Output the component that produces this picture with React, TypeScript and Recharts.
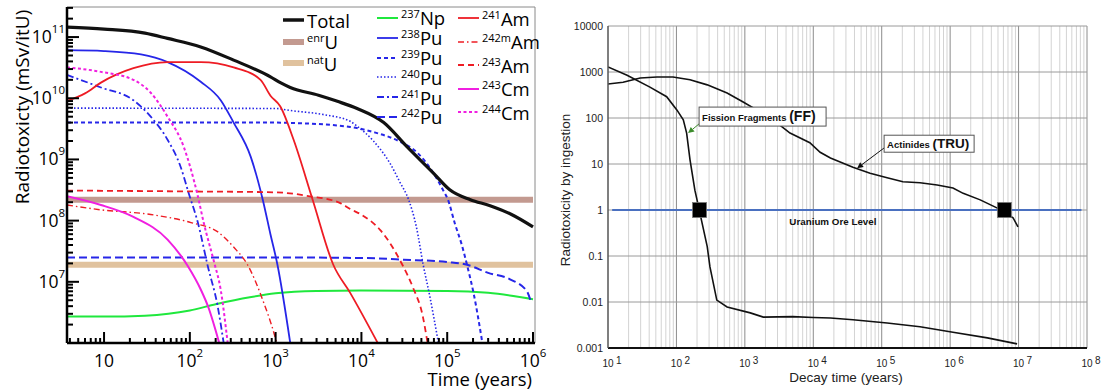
import React from 'react';
import { LineChart, Line, XAxis, YAxis, ReferenceLine, ReferenceDot, Legend } from 'recharts';

type Pt = [number, number];

// ---- left panel: radiotoxicity (mSv/itU) against time (years)
const totalCurve: Pt[] = [[3.7, 1.45e11], [10, 1.35e11], [30, 1.16e11], [55, 9.5e10], [134, 6.9e10], [324, 4.2e10], [870, 2.24e10], [1150, 1.78e10], [1480, 1.5e10], [3160, 1.12e10], [5250, 8.9e9], [8900, 6.8e9], [18200, 4.0e9], [33900, 1.62e9], [69000, 6.0e8], [107000, 3.2e8], [186000, 2.2e8], [316000, 1.75e8], [562000, 1.26e8], [1e6, 7.9e7]];
const enrichedU: Pt[] = [[3.7, 2.2e8], [1e6, 2.2e8]];
const naturalU: Pt[] = [[3.7, 1.9e7], [1e6, 1.9e7]];
const np237: Pt[] = [[3.7, 2.7e6], [10, 2.7e6], [30, 2.8e6], [100, 3.4e6], [200, 4.3e6], [500, 5.6e6], [1000, 6.5e6], [3000, 7.1e6], [10000, 7.2e6], [100000, 7.1e6], [300000, 6.6e6], [1e6, 5.2e6]];
const pu238: Pt[] = [[3.7, 6.1e10], [10, 5.9e10], [27, 5.2e10], [55, 3.9e10], [134, 1.86e10], [229, 9.3e9], [324, 4.0e9], [513, 1.1e9], [708, 2.2e8], [870, 6e7], [1050, 1.9e7], [1480, 1e6]];
const pu239: Pt[] = [[3.7, 4e9], [1000, 4e9], [1480, 3.95e9], [7400, 3.4e9], [13800, 2.8e9], [28200, 1.95e9], [44700, 1.29e9], [69000, 6e8], [89000, 3.2e8], [102000, 2.2e8], [123000, 8.9e7], [148000, 4e7], [170000, 1.9e7], [204000, 6.3e6], [257000, 1e6]];
const pu240: Pt[] = [[3.7, 6.9e9], [1000, 6.8e9], [1490, 6.3e9], [3640, 5.4e9], [7400, 4.2e9], [8900, 3.5e9], [13800, 2e9], [21900, 8.3e8], [28200, 4.2e8], [35500, 2.2e8], [43700, 7.9e7], [52500, 1.9e7], [63000, 5.6e6], [79000, 1e6]];
const pu241: Pt[] = [[3.7, 2.4e10], [9.2, 1.5e10], [22, 9.3e9], [35, 5e9], [55, 2.1e9], [78, 7.6e8], [97, 2.8e8], [124, 9.3e7], [162, 1.8e7], [211, 4e6], [248, 1e6]];
const pu242: Pt[] = [[3.7, 2.5e7], [1000, 2.5e7], [10000, 2.45e7], [31000, 2.3e7], [100000, 2.1e7], [170000, 1.9e7], [300000, 1.4e7], [540000, 1.1e7], [850000, 7.0e6], [950000, 4.6e6]];
const am241: Pt[] = [[3.7, 9e9], [6, 1.2e10], [9.2, 1.8e10], [22, 3.1e10], [55, 3.9e10], [134, 3.9e10], [324, 3.2e10], [667, 2.0e10], [871, 1.1e10], [1130, 7.4e9], [1620, 2.1e9], [2700, 2.2e8], [4700, 1.9e7], [7400, 6.6e6], [15500, 1e6]];
const am242m: Pt[] = [[3.7, 1.8e8], [9.2, 1.5e8], [35, 1.26e8], [103, 9.3e7], [210, 6.6e7], [324, 3.7e7], [470, 1.9e7], [725, 4.6e6], [950, 1.5e6], [1030, 1e6]];
const am243: Pt[] = [[3.7, 3.1e8], [100, 3.0e8], [1000, 2.9e8], [2500, 2.5e8], [5600, 1.95e8], [7400, 1.55e8], [10000, 1.25e8], [16600, 7e7], [30000, 1.9e7], [40000, 8e6], [52000, 2.7e6], [59000, 1e6]];
const cm243: Pt[] = [[3.7, 2.5e8], [9.2, 1.8e8], [22, 1.15e8], [55, 4.9e7], [95, 1.8e7], [134, 7.5e6], [166, 3.7e6], [200, 1.6e6], [220, 1e6]];
const cm244: Pt[] = [[3.7, 3.2e10], [9.2, 2.7e10], [22, 2.0e10], [35, 1.23e10], [55, 5e9], [85, 1.6e9], [124, 2.5e8], [145, 9.3e7], [190, 2.2e7], [229, 7.4e6], [276, 1e6]];

const leftXMajor = [10, 1e2, 1e3, 1e4, 1e5, 1e6];
const leftYMajor = [1e7, 1e8, 1e9, 1e10, 1e11];

// ---- right panel: radiotoxicity by ingestion against decay time (years)
const fissionFragments: Pt[] = [[10, 1290], [19, 850], [41, 470], [72, 290], [102, 148], [126, 91], [141, 47], [158, 12.3], [186, 2.7], [200, 1.66], [282, 0.16], [309, 0.058], [389, 0.011], [550, 0.0078], [1200, 0.0058], [1860, 0.0047], [5000, 0.0048], [10000, 0.0046], [17800, 0.0045], [38000, 0.0041], [120000, 0.0035], [363000, 0.0029], [1.1e6, 0.0022], [3.5e6, 0.00166], [9.5e6, 0.00123]];
const actinides: Pt[] = [[10, 550], [16.6, 600], [29.5, 740], [52, 780], [89, 780], [158, 680], [282, 525], [550, 350], [930, 225], [1510, 148], [2950, 78], [4570, 47], [8900, 29], [12600, 18], [17800, 13.5], [38000, 8.5], [67600, 6.3], [120000, 5.0], [204000, 4.1], [363000, 3.9], [646000, 3.5], [1.1e6, 3.0], [1.55e6, 2.3], [2.75e6, 1.66], [4.9e6, 1.1], [8.3e6, 0.68], [9.8e6, 0.43]];
const uraniumOreLevel: Pt[] = [[11.5, 1], [8.3e7, 1]];
const crossingPoints: Pt[] = [[218, 1], [6.2e6, 1]];
const ffArrowTip: Pt = [148, 47];
const truArrowTip: Pt = [43700, 8.1];
const oreLabelAt: Pt = [4470, 1];

const rightXMajor = [10, 1e2, 1e3, 1e4, 1e5, 1e6, 1e7, 1e8];
const rightYTicks = [0.001, 0.01, 0.1, 1, 10, 100, 1000, 10000];

const LEFT_X: [number, number] = [3.7, 1.055e6];
const LEFT_Y: [number, number] = [1e6, 3.1e11];

const isMajor = (v: number) => Math.abs(Math.log10(v) - Math.round(Math.log10(v))) < 1e-9;
const withMinors = (lo: number, hi: number, e0: number, e1: number) => {
  const out: number[] = [];
  for (let e = e0; e <= e1; e++) for (let m = 1; m <= 9; m++) {
    const v = m * Math.pow(10, e);
    if (v >= lo && v <= hi) out.push(v);
  }
  return out;
};
const leftXTicks = withMinors(4, 1e6, 0, 6);
const leftYTicks = withMinors(2e6, 3e11, 6, 11);
const rightXMinor = withMinors(10, 1e8, 1, 7).filter(v => !isMajor(v));

const rows = (pts: Pt[]) => pts.map(([t, v]) => ({ t, v }));

interface Series { key: string; sup: string; name: string; color: string; width: number; dash?: string; data: Pt[]; }
const BLUE = '#2626e8';
const RED = '#ee1c24';
const MAG = '#f01fe0';
const series: Series[] = [
  { key: 'enrU', sup: 'enr', name: 'U', color: '#c39a90', width: 6, data: enrichedU },
  { key: 'natU', sup: 'nat', name: 'U', color: '#e0c29e', width: 6, data: naturalU },
  { key: 'np237', sup: '237', name: 'Np', color: '#1fe83d', width: 2, data: np237 },
  { key: 'pu238', sup: '238', name: 'Pu', color: BLUE, width: 1.8, data: pu238 },
  { key: 'pu239', sup: '239', name: 'Pu', color: BLUE, width: 2, dash: '4 3', data: pu239 },
  { key: 'pu240', sup: '240', name: 'Pu', color: BLUE, width: 1.6, dash: '1.5 2', data: pu240 },
  { key: 'pu241', sup: '241', name: 'Pu', color: BLUE, width: 1.8, dash: '7 3 2 3', data: pu241 },
  { key: 'pu242', sup: '242', name: 'Pu', color: BLUE, width: 2, dash: '8 4', data: pu242 },
  { key: 'am241', sup: '241', name: 'Am', color: RED, width: 1.8, data: am241 },
  { key: 'am242m', sup: '242m', name: 'Am', color: RED, width: 1.4, dash: '6 3 1.5 3', data: am242m },
  { key: 'am243', sup: '243', name: 'Am', color: RED, width: 1.8, dash: '6 4', data: am243 },
  { key: 'cm243', sup: '243', name: 'Cm', color: MAG, width: 2, data: cm243 },
  { key: 'cm244', sup: '244', name: 'Cm', color: MAG, width: 2, dash: '3 2.5', data: cm244 },
  { key: 'total', sup: '', name: 'Total', color: '#111', width: 3.2, data: totalCurve },
];
const byKey: Record<string, Series> = Object.fromEntries(series.map(s => [s.key, s]));

const legendColumns = [
  { left: 283, first: 20, gap: 21.5, keys: ['total', 'enrU', 'natU'] },
  { left: 377, first: 18, gap: 19.8, keys: ['np237', 'pu238', 'pu239', 'pu240', 'pu241', 'pu242'] },
  { left: 458, first: 18, gap: 23.5, keys: ['am241', 'am242m', 'am243', 'cm243', 'cm244'] },
];

const LF = '"Open Sans", "Noto Sans", sans-serif';
const RF = '"Liberation Sans", Arial, sans-serif';

const LeftLegend = () => (
  <div style={{ position: 'relative', width: 550, height: 135, fontFamily: LF, color: '#000' }}>
    {legendColumns.map((col, ci) => (
      <div key={ci} style={{ position: 'absolute', left: col.left, top: col.first - col.gap / 2 }}>
        {col.keys.map(k => {
          const s = byKey[k];
          return (
            <div key={k} style={{ height: col.gap, display: 'flex', alignItems: 'center', whiteSpace: 'nowrap' }}>
              <svg width={21} height={8} style={{ flex: 'none' }}>
                <line x1={0} x2={21} y1={4} y2={4} stroke={s.color} strokeWidth={s.key === 'total' ? 3.5 : s.width} strokeDasharray={s.dash} />
              </svg>
              <span style={{ marginLeft: 3, fontSize: 18.5, lineHeight: '15px', display: 'inline-block' }}>
                {s.sup && <span style={{ fontSize: 11, lineHeight: '8px', position: 'relative', top: -7 }}>{s.sup}</span>}
                {s.name}
              </span>
            </div>
          );
        })}
      </div>
    ))}
  </div>
);

const LeftXTick = (p: any) => {
  const { x, y, payload } = p;
  const v = payload.value;
  const major = isMajor(v);
  const e = Math.round(Math.log10(v));
  return (
    <g>
      <line x1={x} x2={x} y1={y} y2={y - (major ? 11 : 5)} stroke="#000" strokeWidth={2} />
      {major && (
        <text x={x} y={y + 24} textAnchor="middle" fontFamily={LF} fontSize={17.5} fill="#000">
          10{e > 1 && <tspan dy={-10} fontSize={11.5}>{e}</tspan>}
        </text>
      )}
    </g>
  );
};

const LeftYTick = (p: any) => {
  const { x, y, payload } = p;
  const v = payload.value;
  const major = isMajor(v);
  const e = Math.round(Math.log10(v));
  return (
    <g>
      <line x1={x} x2={x + (major ? 12 : 6)} y1={y} y2={y} stroke="#000" strokeWidth={2} />
      {major && (
        <text x={x - 2} y={y + 6} textAnchor="end" fontFamily={LF} fontSize={17.5} fill="#000">
          10<tspan dy={-10} fontSize={11.5}>{e}</tspan>
        </text>
      )}
    </g>
  );
};

const RightXTick = (p: any) => {
  const { x, y, payload } = p;
  const e = Math.round(Math.log10(payload.value));
  return (
    <g fontFamily={RF} fill="#222">
      <text x={x} y={y + 19} textAnchor="middle" fontSize={10}>10</text>
      <text x={x + 8} y={y + 16} fontSize={10}>{e}</text>
    </g>
  );
};

const RightYTick = (p: any) => {
  const { x, y, payload } = p;
  return (
    <text x={x - 5} y={y + 3.8} textAnchor="end" fontFamily={RF} fontSize={10.5} fill="#222">
      {String(payload.value)}
    </text>
  );
};

const LeftYTitle = () => (
  <text x={22} y={107} transform="rotate(-90 22 107)" textAnchor="middle" dominantBaseline="central" fontFamily={LF} fontSize={19} fill="#000">
    Radiotoxicty (mSv/itU)
  </text>
);
const LeftXTitle = () => (
  <text x={532} y={386} textAnchor="end" fontFamily={LF} fontSize={18.5} fill="#000">Time (years)</text>
);
const RightYTitle = () => (
  <text x={15} y={190} transform="rotate(-90 15 190)" textAnchor="middle" dominantBaseline="central" fontFamily={RF} fontSize={13.5} fill="#222">
    Radiotoxicity by ingestion
  </text>
);
const RightXTitle = () => (
  <text x={296} y={382} textAnchor="middle" fontFamily={RF} fontSize={13.5} fill="#222">Decay time (years)</text>
);

const Arrow = ({ x1, y1, x2, y2, color }: { x1: number; y1: number; x2: number; y2: number; color: string }) => {
  const a = Math.atan2(y2 - y1, x2 - x1);
  const L = 6, W = 3;
  const bx = x2 - L * Math.cos(a), by = y2 - L * Math.sin(a);
  const pts = `${x2},${y2} ${bx - W * Math.sin(a)},${by + W * Math.cos(a)} ${bx + W * Math.sin(a)},${by - W * Math.cos(a)}`;
  return (
    <g>
      <line x1={x1} y1={y1} x2={bx} y2={by} stroke={color} strokeWidth={1} />
      <polygon points={pts} fill={color} />
    </g>
  );
};

const FFCallout = (p: any) => {
  const { cx, cy } = p;
  return (
    <g>
      <Arrow x1={cx + 12.5} y1={cy - 10.5} x2={cx} y2={cy} color="#3c8c2c" />
      <rect x={cx + 11} y={cy - 26} width={127} height={19} fill="#fff" stroke="#555" strokeWidth={1} />
      <text x={cx + 14} y={cy - 12} fontFamily={RF} fontWeight="bold" fill="#111">
        <tspan fontSize={9.5}>Fission Fragments </tspan>
        <tspan fontSize={14}>(FF)</tspan>
      </text>
    </g>
  );
};

const TRUCallout = (p: any) => {
  const { cx, cy } = p;
  return (
    <g>
      <Arrow x1={cx + 28} y1={cy - 21} x2={cx} y2={cy} color="#111" />
      <rect x={cx + 27} y={cy - 33} width={90} height={17} fill="#fff" stroke="#555" strokeWidth={1} />
      <text x={cx + 30} y={cy - 20} fontFamily={RF} fontWeight="bold" fill="#111">
        <tspan fontSize={9.5}>Actinides </tspan>
        <tspan fontSize={13.5}>(TRU)</tspan>
      </text>
    </g>
  );
};

const OreLabel = (p: any) => (
  <text x={p.cx} y={p.cy + 15} fontFamily={RF} fontWeight="bold" fontSize={9.8} fill="#111">Uranium Ore Level</text>
);

const Square = (p: any) => (
  <rect x={p.cx - 7} y={p.cy - 7.5} width={14} height={15} fill="#000" stroke="#777" strokeWidth={0.8} />
);

export default function App() {
  return (
    <div style={{ position: 'absolute', left: 0, top: 0, width: 1106, height: 392, background: '#fff' }}>
      <div style={{ position: 'absolute', left: 0, top: 0 }}>
        <LineChart width={550} height={392} margin={{ top: 7, right: 15, bottom: 0, left: 0 }}>
          <XAxis
            dataKey="t" type="number" scale="log" domain={LEFT_X} allowDataOverflow
            ticks={leftXTicks} interval={0} tickSize={0} tickMargin={0} tick={<LeftXTick />}
            height={49} axisLine={{ stroke: '#000', strokeWidth: 2.5 }} tickLine={false}
            label={<LeftXTitle />}
          />
          <YAxis
            dataKey="v" type="number" scale="log" domain={LEFT_Y} allowDataOverflow
            ticks={leftYTicks} interval={0} tickSize={0} tickMargin={0} tick={<LeftYTick />}
            width={67} axisLine={{ stroke: '#000', strokeWidth: 2.5 }} tickLine={false}
            label={<LeftYTitle />}
          />
          <ReferenceLine y={LEFT_Y[1]} stroke="#8a8a8a" strokeWidth={1} ifOverflow="visible" />
          <ReferenceLine x={LEFT_X[1]} stroke="#8a8a8a" strokeWidth={1} ifOverflow="visible" />
          {series.map(s => (
            <Line
              key={s.key} data={rows(s.data)} dataKey="v" type={s.data.length > 2 ? 'monotone' : 'linear'}
              stroke={s.color} strokeWidth={s.width} strokeDasharray={s.dash}
              dot={false} activeDot={false} isAnimationActive={false} legendType="none"
            />
          ))}
          <Legend
            layout="horizontal" verticalAlign="middle" align="center"
            wrapperStyle={{ left: 0, top: 0, width: 550, height: 135 }}
            content={() => <LeftLegend />}
          />
        </LineChart>
      </div>
      <div style={{ position: 'absolute', left: 550, top: 0 }}>
        <LineChart width={556} height={392} margin={{ top: 26, right: 19, bottom: 0, left: 0 }}>
          <XAxis
            dataKey="t" type="number" scale="log" domain={[10, 1e8]} allowDataOverflow
            ticks={rightXMajor} interval={0} tickSize={0} tickMargin={0} tick={<RightXTick />}
            height={44} axisLine={{ stroke: '#111', strokeWidth: 2 }} tickLine={false}
            label={<RightXTitle />}
          />
          <YAxis
            dataKey="v" type="number" scale="log" domain={[0.001, 10000]} allowDataOverflow
            ticks={rightYTicks} interval={0} tickSize={0} tickMargin={0} tick={<RightYTick />}
            width={58} axisLine={{ stroke: '#555', strokeWidth: 1.5 }} tickLine={false}
            label={<RightYTitle />}
          />
          {rightXMinor.map(v => (
            <ReferenceLine key={'m' + v} x={v} stroke="#d3d3d3" strokeWidth={1} />
          ))}
          {rightXMajor.slice(1).map(v => (
            <ReferenceLine key={'M' + v} x={v} stroke="#8c8c8c" strokeWidth={1} />
          ))}
          {rightYTicks.slice(1).map(v => (
            <ReferenceLine key={'h' + v} y={v} stroke="#9a9a9a" strokeWidth={1} />
          ))}
          <Line data={rows(uraniumOreLevel)} dataKey="v" type="linear" stroke="#4a70c0" strokeWidth={2} dot={false} activeDot={false} isAnimationActive={false} />
          <Line data={rows(fissionFragments)} dataKey="v" type="linear" stroke="#111" strokeWidth={1.6} dot={false} activeDot={false} isAnimationActive={false} />
          <Line data={rows(actinides)} dataKey="v" type="linear" stroke="#111" strokeWidth={1.6} dot={false} activeDot={false} isAnimationActive={false} />
          {crossingPoints.map(([t, v]) => (
            <ReferenceDot key={'sq' + t} x={t} y={v} r={7} shape={(p: any) => <Square {...p} />} />
          ))}
          <ReferenceDot x={oreLabelAt[0]} y={oreLabelAt[1]} r={0} shape={(p: any) => <OreLabel {...p} />} />
          <ReferenceDot x={ffArrowTip[0]} y={ffArrowTip[1]} r={0} shape={(p: any) => <FFCallout {...p} />} />
          <ReferenceDot x={truArrowTip[0]} y={truArrowTip[1]} r={0} shape={(p: any) => <TRUCallout {...p} />} />
        </LineChart>
      </div>
    </div>
  );
}
